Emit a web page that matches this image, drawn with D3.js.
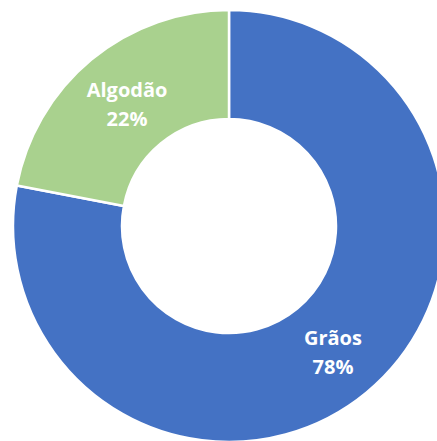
<!DOCTYPE html>
<meta charset="utf-8">
<script src="https://d3js.org/d3.v7.min.js"></script>
<style>
body{margin:0;background:#fff;}
.lbl{font-family:"Open Sans",sans-serif;font-weight:700;fill:#fff;font-size:20px;}
</style>
<div id="chart"></div>
<script>
  // data
  var categories = ["Grãos", "Algodão"];
  var values = [78, 22];
  var colors = ["#4472C4", "#A9D18E"];

  var width = 437, height = 441;
  var cx = 229, cy = 226,
      outerR = 216, innerR = 107;

  var svg = d3.select("#chart")
    .append("svg")
      .attr("width", width)
      .attr("height", height)
    .append("g")
      .attr("transform", "translate(" + cx + "," + cy + ")");

  var data = categories.map(function(c, i){ return {name: c, value: values[i]}; });

  var pie = d3.pie()
    .sort(null)
    .value(function(d){ return d.value; });

  var arc = d3.arc()
    .innerRadius(innerR)
    .outerRadius(outerR);

  var color = d3.scaleOrdinal()
    .domain(categories)
    .range(colors);

  var total = d3.sum(values);

  svg.selectAll("path")
    .data(pie(data))
    .enter()
    .append("path")
      .attr("d", arc)
      .style("fill", function(d){ return color(d.data.name); })
      .style("stroke", "#fff")
      .style("stroke-width", 2.5);

  //labels: name + percent
  var lbl = svg.selectAll("text.lbl")
    .data(pie(data))
    .enter()
    .append("text")
      .attr("class", "lbl")
      .attr("text-anchor", "middle")
      .attr("transform", function(d){
        var c = arc.centroid(d);
        return "translate(" + (c[0] + 1) + "," + (c[1] - 5) + ")";
      });

  lbl.append("tspan")
    .attr("x", 0)
    .attr("y", 0)
    .text(function(d){ return d.data.name; });

  lbl.append("tspan")
    .attr("x", 0)
    .attr("y", 29)
    .text(function(d){ return Math.round(d.data.value / total * 100) + "%"; });
</script>
